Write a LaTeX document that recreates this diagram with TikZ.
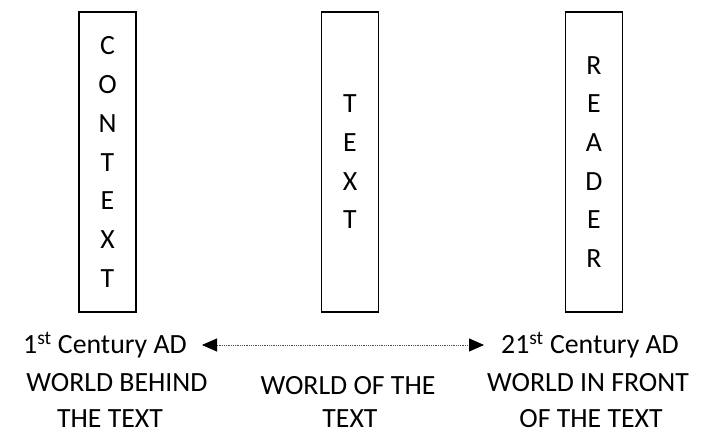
\documentclass[tikz,border=0pt]{standalone}
\usepackage{fontspec}
\setmainfont{Carlito}
\usetikzlibrary{arrows.meta}
\begin{document}
\begin{tikzpicture}[x=1pt,y=-1pt,
  every node/.style={font=\fontsize{27.8}{38.7}\selectfont},
  bar/.style={draw, line width=1.6pt, minimum width=57pt, minimum height=300pt, align=center, inner sep=0pt},
  caption/.style={anchor=base, inner sep=0pt},
  link/.style={line width=0.9pt, black!70, dash pattern=on 0.9pt off 0.9pt,
    {Triangle[length=15pt,width=13pt,black]}-{Triangle[length=15pt,width=13pt,black]}}]
\useasboundingbox (0,0) rectangle (702,435);
% boxes
\node[bar] (context) at (107.5,162) {C\\O\\N\\T\\E\\X\\T};
\node[bar] (text) at (350,162) {T\\E\\X\\T};
\node[bar] (reader) at (594,162) {R\\E\\A\\D\\E\\R};
% left captions
\node[caption] (l1) at (105,354) {1\textsuperscript{st} Century AD};
\node[caption] (l2) at (117,392) {WORLD BEHIND};
\node[caption] (l3) at (110,428) {THE TEXT};
% middle captions
\node[caption] (m1) at (348,395) {WORLD OF THE};
\node[caption] (m2) at (350,428) {TEXT};
% right captions
\node[caption] (r1) at (590,354) {21\textsuperscript{st} Century AD};
\node[caption] (r2) at (588,392) {WORLD IN FRONT};
\node[caption] (r3) at (591,428) {OF THE TEXT};
% arrow
\coordinate (al) at (202,345);
\coordinate (ar) at (484,345);
\draw[link] (al) -- (ar);
\end{tikzpicture}
\end{document}
